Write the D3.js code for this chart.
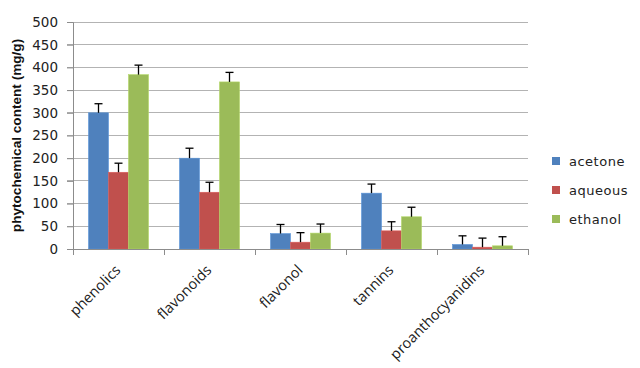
<!DOCTYPE html>
<html><head><meta charset="utf-8">
<script src="https://cdn.jsdelivr.net/npm/d3@7"></script>
<style>body{margin:0;background:#fff}svg{display:block}</style>
</head><body>
<svg id="c" width="640" height="368"></svg>
<script>
const categories = ["phenolics","flavonoids","flavonol","tannins","proanthocyanidins"];
const seriesNames = ["acetone","aqueous","ethanol"];
const acetone = [300, 200, 34, 123, 10];
const aqueous = [169, 125, 15, 40, 4];
const ethanol = [384, 368, 35, 71, 7];
const acetoneErr = [20, 22, 20, 20, 19];
const aqueousErr = [20, 22, 21, 20, 20];
const ethanolErr = [21, 21, 20, 21, 20];
const yTicks = [0,50,100,150,200,250,300,350,400,450,500];
const colors = ["#4F81BD","#C0504D","#9BBB59"];

const values = [acetone, aqueous, ethanol];
const errs = [acetoneErr, aqueousErr, ethanolErr];

const svg = d3.select("#c");
const m = {l:73, r:112, t:22, b:119};
const W = 640, H = 368;
const x = d3.scaleBand().domain(categories).range([m.l, W-m.r]);
const y = d3.scaleLinear().domain([0,500]).range([H-m.b, m.t]);
const bandStep = x.step();
const barW = 20;
const gx = d => x(d) + (bandStep - 3*barW)/2;

// gridlines
svg.append("g").selectAll("line").data(yTicks.filter(d=>d>0)).join("line")
  .attr("x1", m.l-6).attr("x2", W-m.r).attr("y1", d=>y(d)).attr("y2", d=>y(d))
  .attr("stroke","#b3b3b3").attr("stroke-width",1).attr("shape-rendering","crispEdges");

// y axis
const ya = svg.append("g").attr("transform",`translate(${m.l},0)`)
  .call(d3.axisLeft(y).tickValues(yTicks).tickSize(6).tickPadding(9));
ya.select(".domain").attr("stroke","#8c8c8c");
ya.selectAll(".tick line").attr("stroke","#8c8c8c");
ya.selectAll("text").attr("font-family","DejaVu Sans").attr("font-size","13.5px").attr("fill","#222");

// bars + error bars
seriesNames.forEach((s, si) => {
  const rows = categories.map((c,i)=>({c, v: values[si][i], e: errs[si][i]}));
  svg.append("g").selectAll("rect").data(rows).join("rect")
    .attr("x", d=>gx(d.c)+si*barW).attr("width", barW)
    .attr("y", d=>y(d.v)).attr("height", d=>y(0)-y(d.v))
    .attr("fill", colors[si]).attr("stroke", d3.color(colors[si]).brighter(0.4)).attr("stroke-width",0.6);
  const e = svg.append("g").attr("stroke","#000").attr("stroke-width",1.3);
  e.selectAll("line.v").data(rows).join("line").attr("class","v")
    .attr("x1",d=>gx(d.c)+si*barW+barW/2).attr("x2",d=>gx(d.c)+si*barW+barW/2)
    .attr("y1",d=>y(d.v)).attr("y2",d=>y(d.v+d.e));
  e.selectAll("line.cap").data(rows).join("line").attr("class","cap")
    .attr("x1",d=>gx(d.c)+si*barW+barW/2-4).attr("x2",d=>gx(d.c)+si*barW+barW/2+4)
    .attr("y1",d=>y(d.v+d.e)).attr("y2",d=>y(d.v+d.e));
});

// x axis
const xa = svg.append("g").attr("transform",`translate(0,${y(0)})`);
xa.append("line").attr("x1",m.l).attr("x2",W-m.r).attr("stroke","#8c8c8c").attr("shape-rendering","crispEdges");
xa.selectAll("line.t").data(d3.range(categories.length+1)).join("line").attr("class","t")
  .attr("x1",i=>m.l+bandStep*i).attr("x2",i=>m.l+bandStep*i).attr("y1",0).attr("y2",6)
  .attr("stroke","#8c8c8c").attr("shape-rendering","crispEdges");
xa.selectAll("text.cat").data(categories).join("text").attr("class","cat")
  .attr("transform",d=>`translate(${x(d)+bandStep/2+3},${22}) rotate(-45)`)
  .attr("text-anchor","end").attr("font-family","Open Sans").attr("font-size","14.5px").attr("fill","#222")
  .text(d=>d);

// y label
svg.append("text").attr("transform",`translate(21,${(m.t+y(0))/2}) rotate(-90)`)
  .attr("text-anchor","middle").attr("font-family","Liberation Sans").attr("font-weight","bold")
  .attr("font-size","13.6px").attr("fill","#111").text("phytochemical content (mg/g)");

// legend
const lg = svg.append("g").attr("transform","translate(552,161)");
lg.selectAll("rect").data(seriesNames).join("rect")
  .attr("x",0).attr("y",(d,i)=>i*29-4).attr("width",8).attr("height",8).attr("fill",(d,i)=>colors[i]);
lg.selectAll("text").data(seriesNames).join("text")
  .attr("x",17).attr("y",(d,i)=>i*29+5).attr("font-family","DejaVu Sans").attr("font-size","13px")
  .attr("letter-spacing","0.5px").attr("fill","#222").text(d=>d);
</script>
</body></html>
